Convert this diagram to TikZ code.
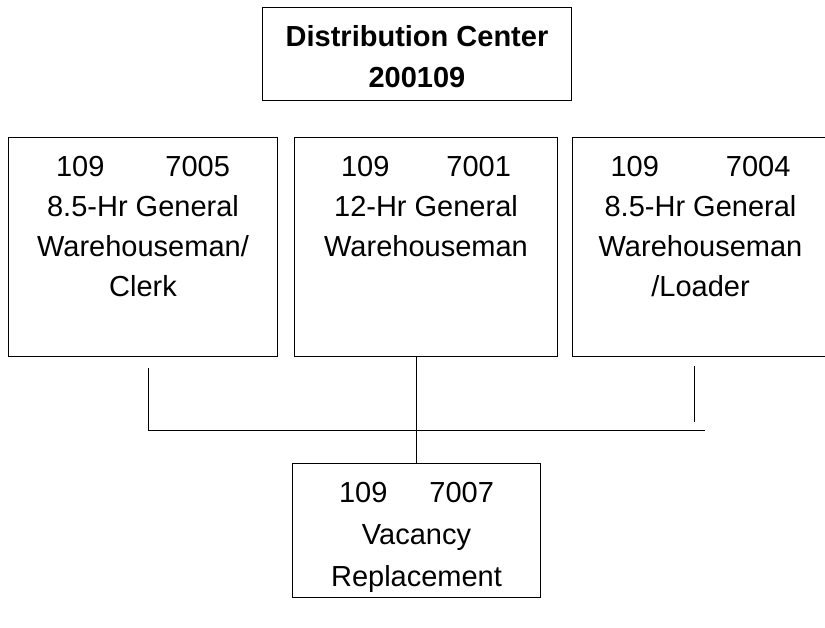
\documentclass[tikz,border=0pt]{standalone}
\usepackage{fontspec}
\setmainfont{Liberation Sans}
\begin{document}
\begin{tikzpicture}[
    x=1pt, y=-1pt,
    box/.style={rectangle, draw, line width=1pt, anchor=north west, inner sep=0pt},
    post/.style={anchor=north, align=center, inner sep=0pt, font=\fontsize{29}{40}\selectfont},
    link/.style={line width=1pt}
]
    \useasboundingbox (0,0) rectangle (825,628);
    \clip (0,0) rectangle (825,628);

    % Head of the chart
    \node[box, minimum width=309pt, minimum height=93pt] (center) at (262,7) {};
    \node[post, font=\fontsize{29}{41}\selectfont\bfseries] (centertext) at ([yshift=-18pt]center.north) {Distribution Center\\200109};

    % Three posts in a row
    \node[box, minimum width=269pt, minimum height=219pt] (clerk) at (8,137) {};
    \node[box, minimum width=263pt, minimum height=219pt] (twelve) at (294,137) {};
    \node[box, minimum width=256pt, minimum height=219pt] (loader) at (572,137) {};
    \node[post] (clerktext) at ([yshift=-19pt]clerk.north) {109\hspace{61pt}7005\\8.5-Hr General\\Warehouseman/\\Clerk};
    \node[post] (twelvetext) at ([yshift=-19pt]twelve.north) {109\hspace{57pt}7001\\12-Hr General\\Warehouseman};
    \node[post] (loadertext) at ([yshift=-19pt]loader.north) {109\hspace{67pt}7004\\8.5-Hr General\\Warehouseman\\/Loader};

    % Vacancy below
    \node[box, minimum width=248pt, minimum height=134pt] (vacancy) at (292,463) {};
    \node[post, font=\fontsize{29}{42}\selectfont] (vacancytext) at ([yshift=-19pt]vacancy.north) {109\hspace{42pt}7007\\Vacancy\\Replacement};

    % Connectors
    \coordinate (clerkfoot) at (148,368);
    \coordinate (railwest) at (148,430);
    \coordinate (raileast) at (705,430);
    \coordinate (loaderfoot) at (694,366);
    \coordinate (loaderend) at (694,422);
    \draw[link] (clerkfoot) -- (railwest) -- (raileast);
    \draw[link] (loaderfoot) -- (loaderend);
    \draw[link] (vacancy.north) -- (vacancy.north |- twelve.south);

\end{tikzpicture}
\end{document}
